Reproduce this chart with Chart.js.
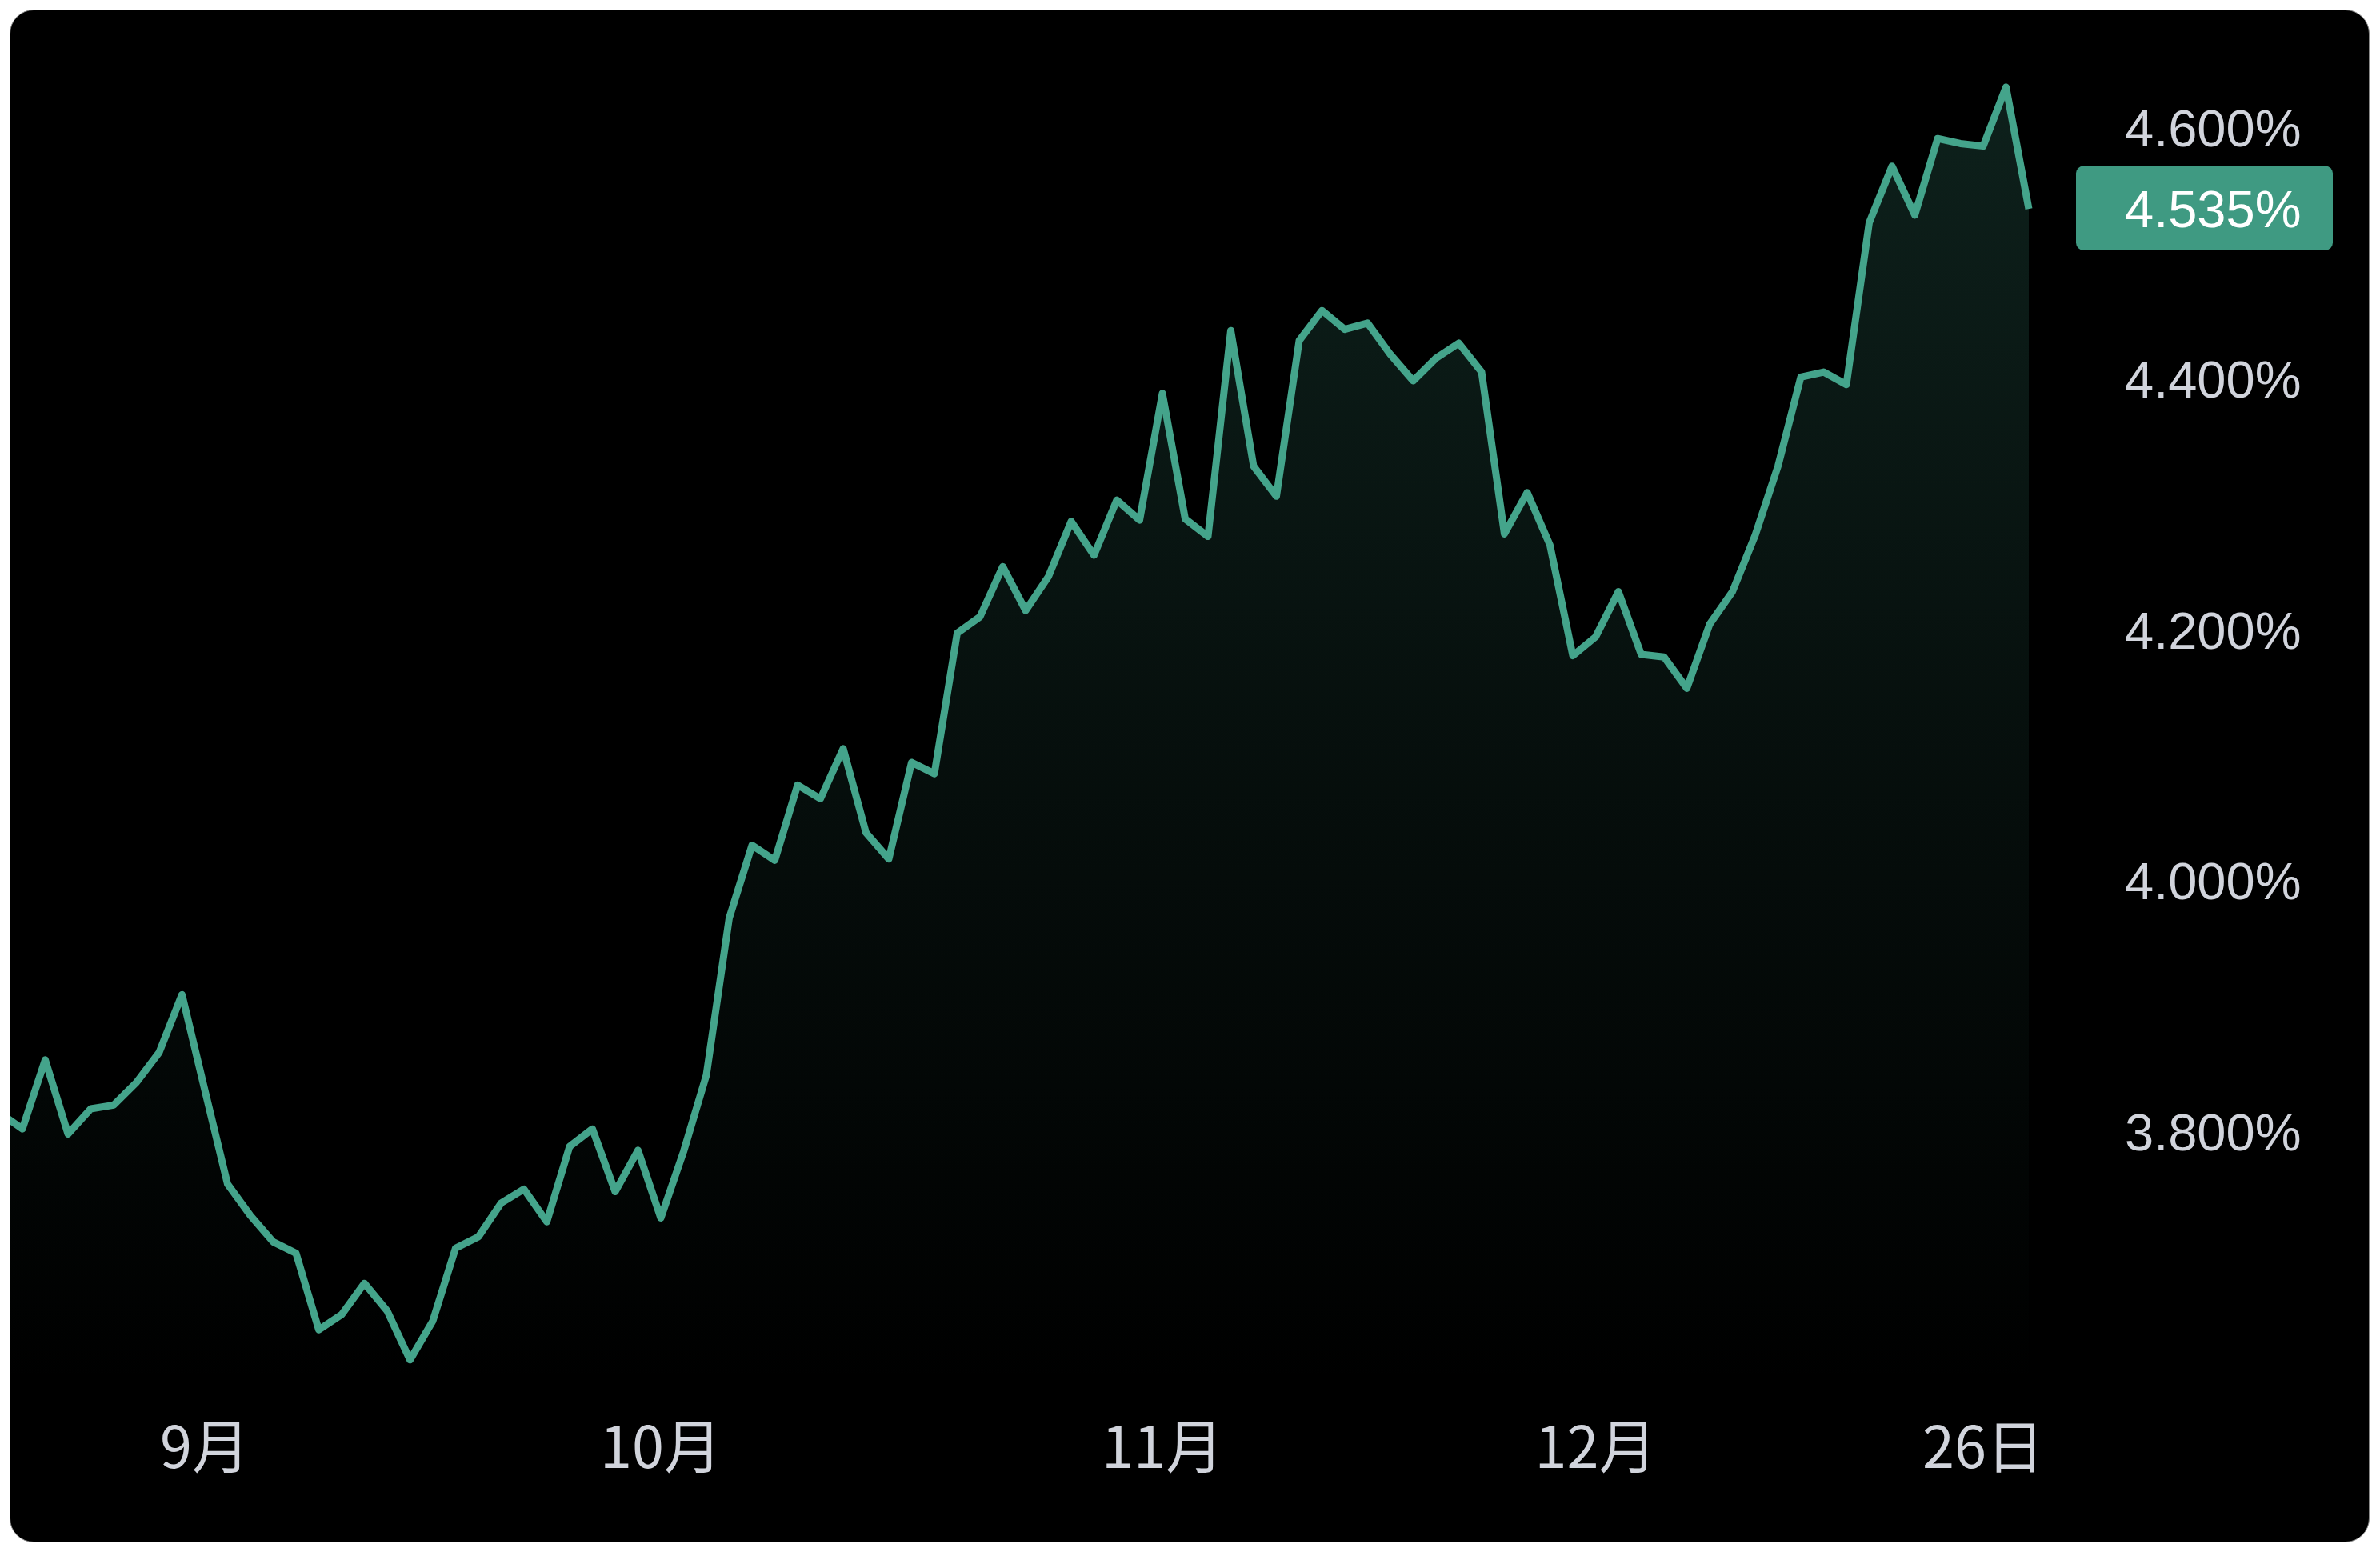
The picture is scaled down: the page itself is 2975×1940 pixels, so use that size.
<!DOCTYPE html>
<html><head><meta charset="utf-8">
<script src="https://cdn.jsdelivr.net/npm/chart.js@4.4.1/dist/chart.umd.min.js"></script>
<style>
html,body{margin:0;padding:0;background:#fff;width:2975px;height:1940px;overflow:hidden;}
#card{position:absolute;left:12px;top:12px;width:2950px;height:1916px;box-sizing:border-box;border:1px solid #8a8a8a;border-radius:30px;background:#000;overflow:hidden;}
#wrap{position:absolute;left:0;top:0;width:2948px;height:1914px;}
</style></head><body>
<div id="card"><div id="wrap"><canvas id="c"></canvas></div></div>
<script>
const dates = [
 '2024-08-20','2024-08-21','2024-08-22','2024-08-23','2024-08-26','2024-08-27','2024-08-28','2024-08-29','2024-08-30',
 '2024-09-03','2024-09-04','2024-09-05','2024-09-06','2024-09-09','2024-09-10','2024-09-11','2024-09-12','2024-09-13',
 '2024-09-16','2024-09-17','2024-09-18','2024-09-19','2024-09-20','2024-09-23','2024-09-24','2024-09-25','2024-09-26',
 '2024-09-27','2024-09-30',
 '2024-10-01','2024-10-02','2024-10-03','2024-10-04','2024-10-07','2024-10-08','2024-10-09','2024-10-10','2024-10-11',
 '2024-10-15','2024-10-16','2024-10-17','2024-10-18','2024-10-21','2024-10-22','2024-10-23','2024-10-24','2024-10-25',
 '2024-10-28','2024-10-29','2024-10-30','2024-10-31',
 '2024-11-01','2024-11-04','2024-11-05','2024-11-06','2024-11-07','2024-11-08','2024-11-12','2024-11-13','2024-11-14',
 '2024-11-15','2024-11-18','2024-11-19','2024-11-20','2024-11-21','2024-11-22','2024-11-25','2024-11-26','2024-11-27',
 '2024-11-29',
 '2024-12-02','2024-12-03','2024-12-04','2024-12-05','2024-12-06','2024-12-09','2024-12-10','2024-12-11','2024-12-12',
 '2024-12-13','2024-12-16','2024-12-17','2024-12-18','2024-12-19','2024-12-20','2024-12-23','2024-12-24','2024-12-26',
 '2024-12-27','2024-12-30'
];
const yields = [
 3.815,3.802,3.857,3.798,3.818,3.821,3.839,3.863,3.909,
 3.833,3.758,3.733,3.712,3.703,3.642,3.654,3.679,3.657,3.618,3.649,3.707,3.716,3.743,3.754,3.728,3.788,3.802,3.752,3.785,
 3.731,3.784,3.845,3.970,4.028,4.016,4.076,4.065,4.105,4.038,4.017,4.094,4.085,4.197,4.210,4.250,4.215,4.242,4.286,4.259,4.303,4.287,
 4.388,4.288,4.274,4.438,4.330,4.306,4.430,4.454,4.439,4.444,4.419,4.398,4.416,4.428,4.405,4.276,4.309,4.267,4.179,
 4.194,4.230,4.180,4.178,4.153,4.204,4.230,4.275,4.330,4.401,4.405,4.395,4.524,4.569,4.530,4.591,4.587,4.585,4.632,4.535
];
const xTickDates = ['2024-09-03','2024-10-01','2024-11-01','2024-12-02','2024-12-26'];
const xTickLabels = ['9月','10月','11月','12月','26日'];
const yTickValues = [3.8, 4.0, 4.2, 4.4, 4.6];

const LINE = '#44a48b';
const BOX = '#3f9a82';
const TXT = '#d1d4dc';
const yFont = {family: '"Liberation Sans", Arial, sans-serif', size: 65};
const xFont = {family: '"Noto Sans CJK SC", sans-serif', size: 72};

const lastValuePlugin = {
  id: 'lastValue',
  afterDraw(chart) {
    const ys = chart.scales.y;
    const v = yields[yields.length - 1];
    const y = ys.getPixelForValue(v);
    const ctx = chart.ctx;
    const h = 105, w = 321, left = ys.left + 25;
    ctx.save();
    ctx.fillStyle = BOX;
    ctx.beginPath();
    ctx.roundRect(left, y - h / 2 - 1, w, h, 9);
    ctx.fill();
    ctx.fillStyle = '#ffffff';
    ctx.font = yFont.size + 'px ' + yFont.family;
    ctx.textAlign = 'left';
    ctx.textBaseline = 'middle';
    ctx.fillText(v.toFixed(3) + '%', ys.left + 86, y + 5);
    ctx.restore();
  }
};

new Chart(document.getElementById('c'), {
  type: 'line',
  data: {
    datasets: [{
      data: yields.map((v, i) => ({x: i, y: v})),
      borderColor: LINE,
      borderWidth: 9,
      borderJoinStyle: 'round',
      borderCapStyle: 'butt',
      pointRadius: 0,
      tension: 0,
      fill: 'start',
      backgroundColor: (ctx) => {
        const a = ctx.chart.chartArea;
        if (!a) return 'rgba(0,0,0,0)';
        const g = ctx.chart.ctx.createLinearGradient(0, a.top, 0, a.bottom);
        g.addColorStop(0, 'rgba(68,164,139,0.21)');
        g.addColorStop(0.6, 'rgba(68,164,139,0.08)');
        g.addColorStop(1, 'rgba(68,164,139,0.0)');
        return g;
      }
    }]
  },
  options: {
    responsive: true,
    maintainAspectRatio: false,
    devicePixelRatio: 1,
    animation: false,
    layout: {padding: {left: 0, top: 0, right: 85, bottom: 0}},
    plugins: {legend: {display: false}, tooltip: {enabled: false}},
    scales: {
      x: {
        type: 'linear',
        min: 0.474,
        max: 90.193,
        bounds: 'data',
        grid: {display: false, drawTicks: false, tickLength: 0},
        border: {display: false},
        ticks: {
          autoSkip: false, maxRotation: 0, minRotation: 0,
          color: TXT, font: xFont, padding: 29,
          callback: (v, idx) => xTickLabels[idx]
        },
        afterBuildTicks: (s) => { s.ticks = xTickDates.map(d => ({value: dates.indexOf(d)})); },
        afterFit: (s) => { s.height = 192; s.paddingLeft = 0; s.paddingRight = 0; }
      },
      y: {
        type: 'linear',
        position: 'right',
        min: 3.5956,
        max: 4.6931,
        bounds: 'data',
        grid: {display: false, drawTicks: false, tickLength: 0},
        border: {display: false},
        ticks: {
          color: TXT, font: yFont, padding: 86, crossAlign: 'near', labelOffset: 6,
          callback: (v) => v.toFixed(3) + '%'
        },
        afterBuildTicks: (s) => { s.ticks = yTickValues.map(v => ({value: v})); },
        afterFit: (s) => { s.width = 306; s.paddingTop = 0; s.paddingBottom = 0; }
      }
    }
  },
  plugins: [lastValuePlugin]
});
</script>
</body></html>
